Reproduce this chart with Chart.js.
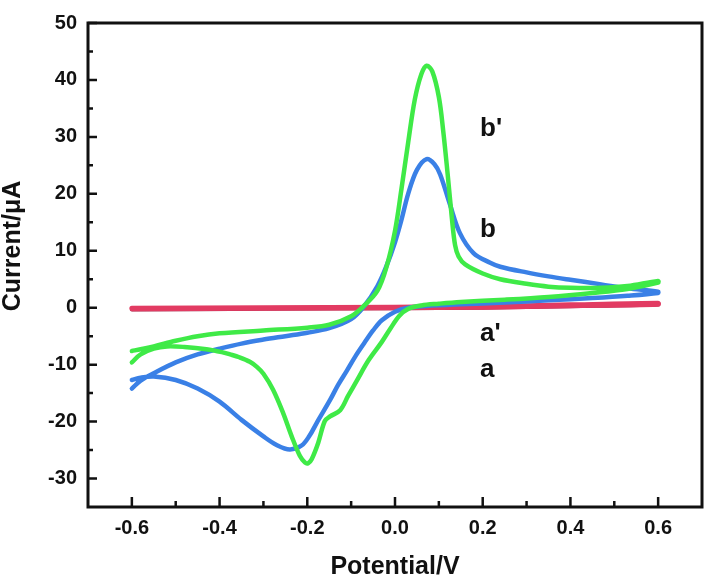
<!DOCTYPE html>
<html>
<head>
<meta charset="UTF-8">
<title>Cyclic voltammograms</title>
<script src="https://cdn.jsdelivr.net/npm/chart.js@4.4.1/dist/chart.umd.min.js"></script>
<style>
  body { margin: 0; background: #fff; }
  .wrap { width: 706px; height: 583px; position: relative; }
</style>
</head>
<body>
<div class="wrap"><canvas id="cv"></canvas></div>
<script>
  // axis ticks
  const xTicks = [-0.6, -0.4, -0.2, 0.0, 0.2, 0.4, 0.6];
  const xMinor = [-0.5, -0.3, -0.1, 0.1, 0.3, 0.5];
  const yTicks = [-30, -20, -10, 0, 10, 20, 30, 40, 50];
  const yMinor = [-25, -15, -5, 5, 15, 25, 35, 45];

  // curve b (blue): cathodic branch left -> right, then anodic branch right -> left
  const bCathX = [-0.6, -0.58, -0.55, -0.5, -0.45, -0.4, -0.35, -0.3, -0.27, -0.24, -0.213, -0.195, -0.179, -0.148, -0.13, -0.11, -0.09, -0.07, -0.05, -0.03, 0.0, 0.03, 0.07, 0.15, 0.25, 0.35, 0.45, 0.53, 0.6];
  const bCathY = [-12.7, -12.3, -12.1, -12.7, -14.2, -16.5, -19.7, -22.6, -24.1, -24.9, -24.2, -22.5, -20.3, -16.2, -13.6, -11.1, -8.5, -6.2, -4.0, -2.2, -0.7, 0.0, 0.3, 0.6, 0.9, 1.3, 1.7, 2.1, 2.6];
  const bAnX = [0.6, 0.53, 0.47, 0.4, 0.35, 0.3, 0.24, 0.217, 0.179, 0.148, 0.125, 0.103, 0.09, 0.072, 0.05, 0.03, 0.015, 0.0, -0.02, -0.04, -0.07, -0.1, -0.15, -0.2, -0.25, -0.3, -0.35, -0.4, -0.45, -0.5, -0.55, -0.58, -0.6];
  const bAnY = [2.8, 3.4, 4.1, 4.9, 5.5, 6.2, 7.2, 7.9, 9.6, 13.1, 18.2, 23.4, 25.2, 26.1, 24.2, 20.0, 15.5, 11.5, 7.2, 3.8, 0.3, -2.0, -3.6, -4.4, -5.0, -5.6, -6.3, -7.2, -8.2, -9.6, -11.5, -12.8, -14.2];

  // curve b' (green)
  const bpCathX = [-0.6, -0.58, -0.55, -0.52, -0.48, -0.43, -0.395, -0.376, -0.355, -0.331, -0.315, -0.3, -0.278, -0.255, -0.236, -0.217, -0.205, -0.198, -0.19, -0.175, -0.16, -0.148, -0.125, -0.107, -0.087, -0.06, -0.03, -0.01, 0.01, 0.03, 0.06, 0.1, 0.15, 0.25, 0.35, 0.45, 0.53, 0.6];
  const bpCathY = [-9.6, -8.2, -7.2, -6.8, -6.9, -7.3, -7.8, -8.2, -8.7, -9.5, -10.4, -11.6, -14.4, -18.5, -22.5, -26.0, -27.2, -27.3, -26.6, -23.7, -19.9, -19.1, -18.0, -15.5, -12.8, -9.2, -6.0, -3.6, -1.4, -0.2, 0.4, 0.7, 1.0, 1.4, 1.9, 2.6, 3.3, 4.4];
  const bpAnX = [0.6, 0.53, 0.47, 0.4, 0.35, 0.3, 0.24, 0.2, 0.16, 0.145, 0.137, 0.13, 0.12, 0.11, 0.1, 0.085, 0.072, 0.06, 0.045, 0.03, 0.015, 0.0, -0.02, -0.04, -0.07, -0.1, -0.15, -0.2, -0.3, -0.4, -0.45, -0.5, -0.55, -0.58, -0.6];
  const bpAnY = [4.7, 3.8, 3.5, 3.5, 3.7, 4.2, 5.0, 6.0, 7.6, 9.0, 11.0, 15.5, 23.5, 31.0, 37.0, 41.5, 42.5, 41.0, 36.5, 29.0, 21.0, 13.5, 7.0, 3.0, 0.4, -1.5, -3.0, -3.5, -4.0, -4.5, -5.0, -5.8, -6.8, -7.3, -7.6];

  // curves a (dark) and a' (red), nearly flat
  const aX = [-0.6, -0.3, 0.0, 0.2, 0.4, 0.6, 0.6, 0.4, 0.2, 0.0, -0.3, -0.6];
  const aY = [-0.3, -0.2, -0.1, 0.0, 0.25, 0.55, 0.75, 0.45, 0.2, 0.05, -0.05, -0.15];
  const apX = [-0.6, -0.3, 0.0, 0.2, 0.4, 0.6, 0.6, 0.4, 0.2, 0.0, -0.3, -0.6];
  const apY = [-0.2, -0.1, 0.0, 0.1, 0.35, 0.6, 0.8, 0.5, 0.25, 0.1, 0.0, -0.1];

  const curveLabels = ["b'", "b", "a'", "a"];
  const labelAt = [[0.194, 31.5], [0.194, 13.7], [0.194, -4.6], [0.194, -10.9]];

  const zip = (xs, ys) => xs.map((v, i) => ({ x: v, y: ys[i] }));
  const FONT = '"Liberation Sans", Arial, sans-serif';

  const frame = {
    id: 'frame',
    afterDatasetsDraw(chart) {
      const { ctx, chartArea: a, scales: { x, y } } = chart;
      ctx.save();
      ctx.strokeStyle = '#111';
      ctx.lineWidth = 2.5;
      ctx.beginPath();
      xTicks.forEach(v => { const p = x.getPixelForValue(v); ctx.moveTo(p, a.bottom); ctx.lineTo(p, a.bottom - 10); });
      xMinor.forEach(v => { const p = x.getPixelForValue(v); ctx.moveTo(p, a.bottom); ctx.lineTo(p, a.bottom - 6); });
      yTicks.forEach(v => { const p = y.getPixelForValue(v); ctx.moveTo(a.left, p); ctx.lineTo(a.left + 9, p); });
      yMinor.forEach(v => { const p = y.getPixelForValue(v); ctx.moveTo(a.left, p); ctx.lineTo(a.left + 5, p); });
      ctx.stroke();
      ctx.lineWidth = 3;
      ctx.strokeRect(a.left, a.top, a.right - a.left, a.bottom - a.top);

      ctx.fillStyle = '#111';
      ctx.font = 'bold 26px ' + FONT;
      ctx.textBaseline = 'middle';
      ctx.textAlign = 'left';
      curveLabels.forEach((t, i) => {
        ctx.fillText(t, x.getPixelForValue(labelAt[i][0]), y.getPixelForValue(labelAt[i][1]));
      });

      // y axis title, sitting a little above the plot centre as in the original
      ctx.font = 'bold 25px ' + FONT;
      ctx.textAlign = 'center';
      ctx.translate(13, 246);
      ctx.rotate(-Math.PI / 2);
      ctx.fillText('Current/μA', 0, 0);
      ctx.restore();
    }
  };

  const line = (pts, color, w, order) => ({
    data: pts, showLine: true, borderColor: color, borderWidth: w,
    pointRadius: 0, tension: 0.35, fill: false, order,
    borderCapStyle: 'round', borderJoinStyle: 'round'
  });

  new Chart(document.getElementById('cv'), {
    type: 'scatter',
    data: {
      datasets: [
        line(zip(bpCathX.concat(bpAnX), bpCathY.concat(bpAnY)), '#3fea47', 4.5, 0),
        line(zip(bCathX.concat(bAnX), bCathY.concat(bAnY)), '#3a80e6', 4.5, 1),
        line(zip(apX, apY), '#e23b62', 5, 2),
        line(zip(aX, aY), '#9a2748', 4, 3)
      ]
    },
    options: {
      responsive: true,
      maintainAspectRatio: false,
      animation: false,
      layout: { padding: { top: 12, right: 4, left: 0, bottom: 0 } },
      plugins: { legend: { display: false }, tooltip: { enabled: false } },
      scales: {
        x: {
          type: 'linear', min: -0.7, max: 0.7,
          grid: { display: false, drawTicks: false }, border: { display: false },
          afterBuildTicks: s => { s.ticks = xTicks.map(v => ({ value: v })); },
          afterFit: s => { s.height = 76; },
          ticks: { color: '#111', padding: 9, maxRotation: 0, autoSkip: false,
                   font: { family: FONT, size: 20, weight: 'bold' },
                   callback: v => v.toFixed(1) },
          title: { display: true, text: 'Potential/V', color: '#111',
                   font: { family: FONT, size: 25, weight: 'bold', lineHeight: 1 },
                   padding: { top: 0, bottom: 3 } }
        },
        y: {
          min: -35, max: 50,
          grid: { display: false, drawTicks: false }, border: { display: false },
          afterBuildTicks: s => { s.ticks = yTicks.map(v => ({ value: v })); },
          afterFit: s => { s.width = 88; },
          ticks: { color: '#111', padding: 11, autoSkip: false,
                   font: { family: FONT, size: 20, weight: 'bold' } }
        }
      }
    },
    plugins: [frame]
  });
</script>
</body>
</html>
